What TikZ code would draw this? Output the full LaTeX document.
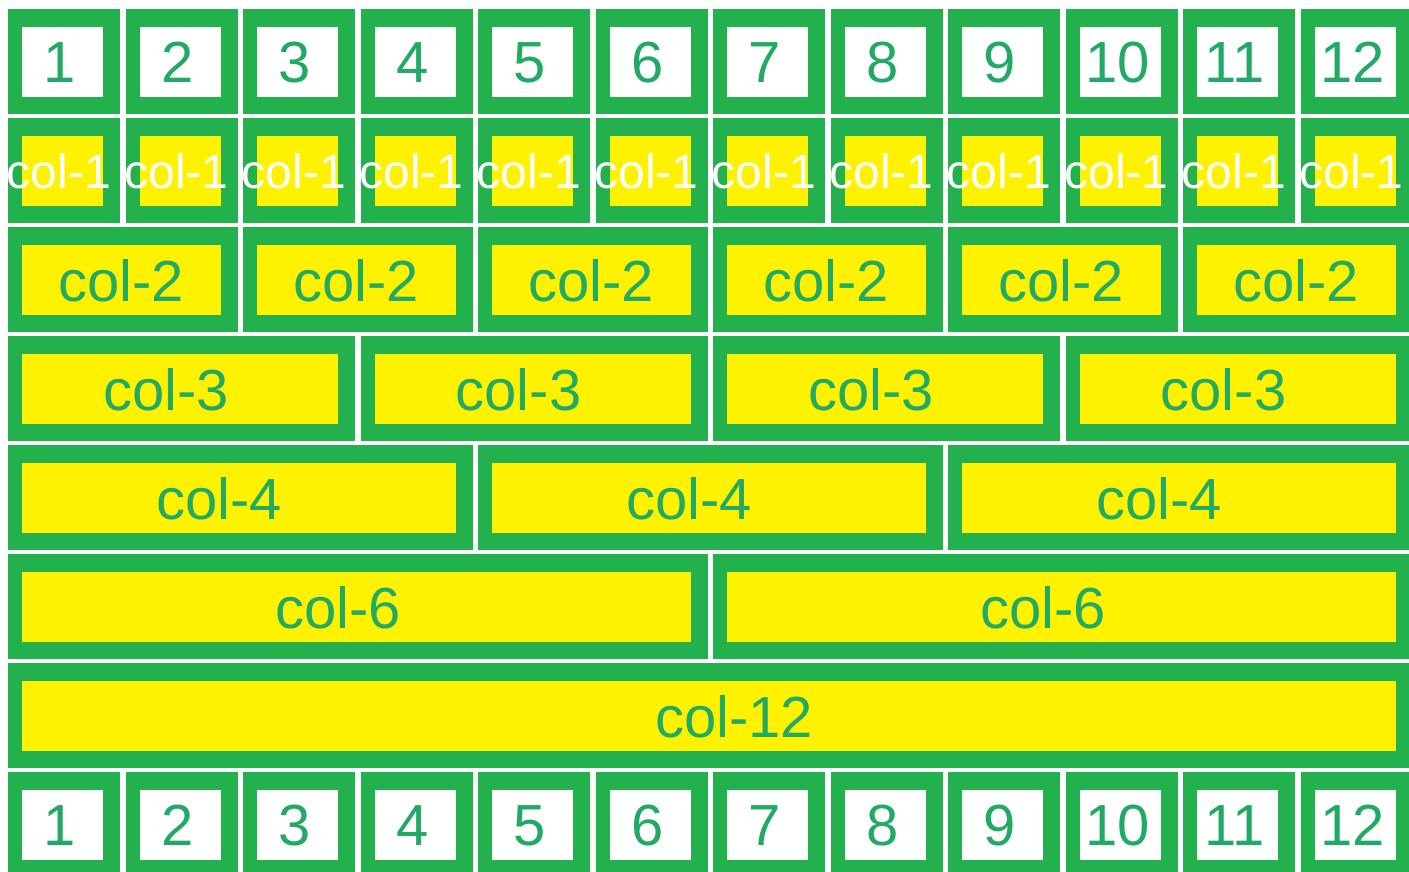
\documentclass[tikz,border=0pt]{standalone}
\usepackage{fontspec}
\setmainfont{Liberation Sans}
\usetikzlibrary{positioning}
\definecolor{gridgreen}{RGB}{34,177,76}
\definecolor{gridyellow}{RGB}{255,242,0}
\definecolor{labelgreen}{RGB}{32,170,100}

\begin{document}
\begin{tikzpicture}[
  x=0.5pt, y=-0.5pt,
  cell/.style={fill=gridgreen, inner sep=0pt, anchor=north west, minimum height=52.5pt},
  pad/.style={inner sep=0pt, anchor=north west, minimum height=35pt},
  numpad/.style={pad, fill=white},
  colpad/.style={pad, fill=gridyellow},
  txt/.style={inner sep=0pt, text=labelgreen, font=\fontsize{29}{29}\selectfont},
  smalltxt/.style={txt, text=white, font=\fontsize{24}{24}\selectfont}
]
\useasboundingbox (0,0) rectangle (1409,872);
\fill[white] (0,0) rectangle (1409,872);
\clip (0,0) rectangle (1409,872);

% numbered rows, top and bottom
\foreach \ytop/\tag in {9/top, 772/bot} {
  \foreach \i in {1,...,12} {
    \node[cell, minimum width=56pt] (\tag-cell-\i) at ({8+(\i-1)*117.5}, \ytop) {};
    \node[numpad, minimum width=40.5pt] (\tag-pad-\i)
      at ([xshift=7pt, yshift=-9pt]\tag-cell-\i.north west) {};
    \node[txt] (\tag-txt-\i) at ([xshift=19pt]\tag-pad-\i.west) {\i};
  }
}

% col-1 row
\foreach \i in {1,...,12} {
  \node[cell, minimum width=56pt] (cell-1-\i) at ({8+(\i-1)*117.5}, 118) {};
  \node[colpad, minimum width=40.5pt] (pad-1-\i)
    at ([xshift=7pt, yshift=-9pt]cell-1-\i.north west) {};
  \node[smalltxt] (txt-1-\i) at ([xshift=18.5pt]pad-1-\i.west) {col-1};
}

% wider columns (\off = text centre from the cell's left edge)
\foreach \ytop/\k/\off in {227/2/113, 336/3/158, 445/4/211, 554/6/330, 663/12/726} {
  \pgfmathtruncatemacro\n{12/\k}
  \foreach \i in {1,...,\n} {
    \node[cell, minimum width={(\k*117.5-5.5)*0.5pt}] (cell-\k-\i)
      at ({8+(\i-1)*\k*117.5}, \ytop) {};
    \node[colpad, minimum width={(\k*117.5-36.5)*0.5pt}] (pad-\k-\i)
      at ([xshift=7pt, yshift=-9pt]cell-\k-\i.north west) {};
    \node[txt] (txt-\k-\i) at ([xshift={(\off-14)*0.5pt}]pad-\k-\i.west) {col-\k};
  }
}

\end{tikzpicture}
\end{document}
